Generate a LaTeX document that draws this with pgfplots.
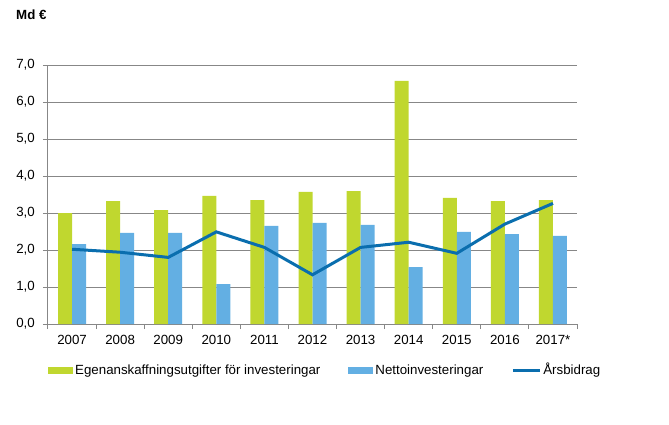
\documentclass[border=0pt]{standalone}
\usepackage{fontspec}
\setmainfont{Liberation Sans}
\usepackage{pgfplots}
\pgfplotsset{compat=1.18}
\definecolor{egen}{HTML}{C0D72F}
\definecolor{netto}{HTML}{63AFE3}
\definecolor{arsb}{HTML}{0A6EAE}
\definecolor{gridc}{HTML}{878787}
\newcommand{\chartfont}{\fontsize{13.3bp}{15bp}\selectfont}

\begin{document}
\chartfont
\begin{tikzpicture}
% fixed frame: 669 x 425 with the plot area at (48,65)-(577,324) px
\path (-48bp,-101bp) rectangle (621bp,324bp);
\begin{axis}[
    at={(0,0)}, anchor=south west,
    scale only axis, width=529bp, height=259bp,
    xmin=-0.5, xmax=10.5, ymin=0, ymax=7,
    xtick={0,...,10},
    xticklabels={2007,2008,2009,2010,2011,2012,2013,2014,2015,2016,2017*},
    minor xtick={-0.5,0.5,...,10.5},
    ytick={0,1,...,7},
    axis x line=bottom, axis y line=left,
    axis line style={draw=gridc, line width=1bp, -},
    tick align=outside,
    major tick length=5bp, minor tick length=5bp,
    major x tick style={draw=none},
    minor x tick style={draw=gridc, line width=1bp},
    major y tick style={draw=gridc, line width=1bp},
    ymajorgrids, major grid style={draw=gridc, line width=1bp},
    every tick label/.append style={font=\chartfont, inner sep=0pt},
    xticklabel style={yshift=-6bp},
    yticklabel style={xshift=-8bp},
    yticklabel style={/pgf/number format/.cd, fixed, fixed zerofill, precision=1, use comma, assume math mode=true},
    legend style={at={(0,0)}, anchor=west, yshift=-46.5bp, draw=none, fill=none,
        inner sep=0pt, font=\chartfont, legend columns=3,
        nodes={inner sep=2bp, anchor=west, text height=10bp, text depth=3bp},
        /tikz/every even column/.append style={column sep=26bp}},
]
\addplot[ybar, bar width=14bp, bar shift=-7bp, fill=egen, draw=none,
    legend image code/.code={\fill[egen] (0bp,-3.5bp) rectangle (25bp,3.5bp);}]
    coordinates {(0,3.00)(1,3.32)(2,3.08)(3,3.46)(4,3.35)(5,3.57)(6,3.59)(7,6.57)(8,3.41)(9,3.32)(10,3.35)};
\addlegendentry{Egenanskaffningsutgifter för investeringar}
\addplot[ybar, bar width=14bp, bar shift=7bp, fill=netto, draw=none,
    legend image code/.code={\fill[netto] (0bp,-3.5bp) rectangle (25bp,3.5bp);}]
    coordinates {(0,2.16)(1,2.46)(2,2.46)(3,1.08)(4,2.65)(5,2.73)(6,2.68)(7,1.54)(8,2.49)(9,2.43)(10,2.38)};
\addlegendentry{Nettoinvesteringar}
\addplot[arsb, line width=3bp, mark=none,
    legend image code/.code={\draw[arsb, line width=3bp] (0bp,0bp) -- (27bp,0bp);}]
    coordinates {(0,2.02)(1,1.94)(2,1.80)(3,2.49)(4,2.07)(5,1.33)(6,2.07)(7,2.21)(8,1.91)(9,2.70)(10,3.26)};
\addlegendentry{Årsbidrag}
\end{axis}
\node[anchor=base west, inner sep=0pt, font=\chartfont\bfseries] at (-32bp,304bp) {Md €};
\end{tikzpicture}
\end{document}
